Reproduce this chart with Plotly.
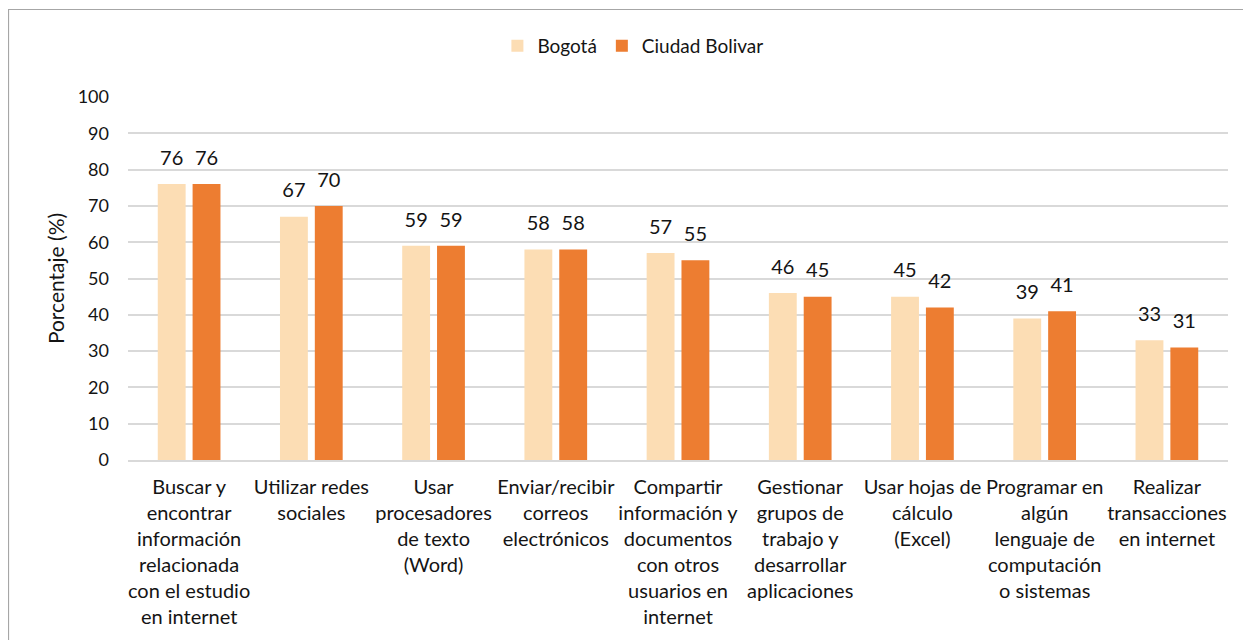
import plotly.graph_objects as go

# Datos
categorias = [
    "Buscar y<br>encontrar<br>información<br>relacionada<br>con el estudio<br>en internet",
    "Utilizar redes<br>sociales",
    "Usar<br>procesadores<br>de texto<br>(Word)",
    "Enviar/recibir<br>correos<br>electrónicos",
    "Compartir<br>información y<br>documentos<br>con otros<br>usuarios en<br>internet",
    "Gestionar<br>grupos de<br>trabajo y<br>desarrollar<br>aplicaciones",
    "Usar hojas de<br>cálculo<br>(Excel)",
    "Programar en<br>algún<br>lenguaje de<br>computación<br>o sistemas",
    "Realizar<br>transacciones<br>en internet",
]
bogota = [76, 67, 59, 58, 57, 46, 45, 39, 33]
ciudad_bolivar = [76, 70, 59, 58, 55, 45, 42, 41, 31]
ticks_y = [0, 10, 20, 30, 40, 50, 60, 70, 80, 90, 100]

FUENTE = "Lato"
TEXTO = "#141414"
W, H = 1251, 640
OFF = 8  # margen por defecto del <body> en la página
M = dict(l=128 - OFF, r=23 + OFF, t=97 - OFF, b=180 + OFF, autoexpand=False)

fig = go.Figure()
for nombre, valores, color in [
    ("Bogotá", bogota, "#FCDDB4"),
    ("Ciudad Bolivar", ciudad_bolivar, "#ED7D31"),
]:
    fig.add_trace(go.Bar(
        x=categorias, y=valores, name=nombre,
        marker=dict(color=color, line=dict(width=0)),
        text=valores, textposition="outside", constraintext="none",
        # segunda linea vacia (fuente base pequeña) para separar la etiqueta de la barra
        texttemplate="<span style='font-size:20px'>%{text}</span><br> ",
        textfont=dict(size=11, color=TEXTO, family=FUENTE),
        cliponaxis=False,
    ))

# Borde del gráfico (se corta abajo y a la derecha)
pw = W - M["l"] - M["r"]
ph = H - M["t"] - M["b"]
fig.add_shape(
    type="rect", xref="paper", yref="paper",
    x0=(0.5 - M["l"]) / pw, x1=(W + 5 - M["l"]) / pw,
    y0=-(M["b"] + 10) / ph, y1=1 + (M["t"] - 1.5) / ph,
    line=dict(color="#A6A6A6", width=1.2), layer="below",
)

fig.update_layout(
    width=W, height=H, margin=M,
    paper_bgcolor="white", plot_bgcolor="white",
    font=dict(family=FUENTE, size=18, color=TEXTO),
    barmode="group", bargap=0.43, bargroupgap=0.2,
    showlegend=True,
    legend=dict(orientation="h", x=0.459, xanchor="center", y=1 + 51 / ph, yanchor="middle",
                font=dict(size=19), traceorder="normal", itemwidth=30),
)
fig.update_xaxes(
    showline=True, linecolor="#D9D9D9", linewidth=1.5,
    ticks="", tickangle=0, tickfont=dict(size=20), ticklabelstandoff=8,
)
fig.update_yaxes(
    range=[0, 100], tickvals=ticks_y,
    showgrid=True, gridcolor="#D9D9D9", gridwidth=1.5,
    zeroline=False, showline=False, ticks="",
    tickfont=dict(size=18), ticklabelstandoff=18,
    title=dict(text="Porcentaje (%)", font=dict(size=21), standoff=7),
)

fig.write_html("out.html")
